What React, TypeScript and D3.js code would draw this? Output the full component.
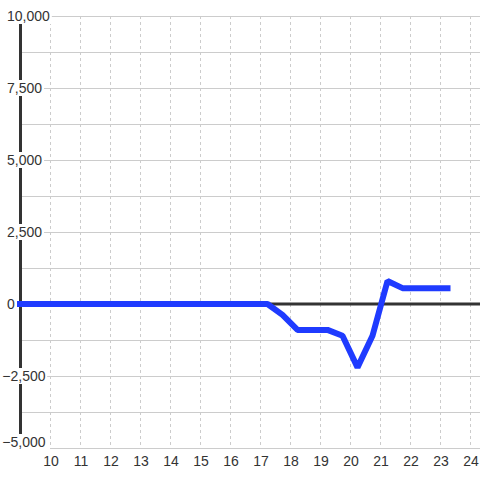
import React from "react";
import * as d3 from "d3";

const hours = [9, 17.25, 17.75, 18.25, 18.75, 19.25, 19.75, 20.25, 20.75, 21.25, 21.75, 22.25, 22.75, 23.25];
const values = [0, 0, -380, -900, -900, -900, -1100, -2200, -1100, 800, 550, 550, 550, 550];
const xTicks = [10, 11, 12, 13, 14, 15, 16, 17, 18, 19, 20, 21, 22, 23, 24];
const yMajor = [10000, 7500, 5000, 2500, 0, -2500, -5000];
const yMinor = [8750, 6250, 3750, 1250, -1250, -3750];

const W = 480;
const H = 480;
const FONT = "'Liberation Sans', Arial, sans-serif";
const TEXT = "#333";

function textWidth(s: string) {
  let w = 0;
  for (const c of s) {
    if (c === ",") w += 3.89;
    else if (c === "-") w += 4.66;
    else w += 7.79;
  }
  return w;
}

export default function App() {
  const x = d3.scaleLinear().domain([9, 24.3333]).range([20, 480]);
  const y = d3.scaleLinear().domain([-5000, 10000]).range([448, 16]);
  const fmt = d3.format(",");
  const line = d3
    .line<number>()
    .x((_, i) => x(hours[i]))
    .y((v) => y(v));
  const path = line(values) || "";

  return (
    <svg
      width={W}
      height={H}
      style={{ position: "absolute", left: 0, top: 0, background: "#fff" }}
    >
      <rect x={0} y={0} width={W} height={H} fill="#fff" />
      {/* vertical dashed gridlines */}
      {xTicks.map((t) => (
        <line
          key={"vx" + t}
          x1={Math.round(x(t)) + 0.5}
          x2={Math.round(x(t)) + 0.5}
          y1={y(10000)}
          y2={y(-5000)}
          stroke="#ccc"
          strokeWidth={1}
          strokeDasharray="3,3"
        />
      ))}
      {/* horizontal gridlines */}
      {[...yMajor, ...yMinor]
        .filter((v) => v !== 0)
        .map((v) => (
          <line
            key={"hy" + v}
            x1={v === -5000 ? x(10) : x(9)}
            x2={W}
            y1={Math.round(y(v)) + 0.5}
            y2={Math.round(y(v)) + 0.5}
            stroke="#ccc"
            strokeWidth={1}
          />
        ))}
      {/* zero line */}
      <line x1={x(9)} x2={W} y1={y(0)} y2={y(0)} stroke="#333" strokeWidth={3} />
      {/* vertical axis bar */}
      <line x1={20.5} x2={20.5} y1={y(10000)} y2={y(-5000)} stroke="#333" strokeWidth={3} />
      {/* y labels */}
      {yMajor.map((v) => {
        const s = fmt(v);
        const neg = v < 0;
        const tx = neg ? 7 - 4.66 : 7;
        const wdt = textWidth(s);
        const bottom = v === -5000;
        const cy = bottom ? y(v) - 6 : y(v);
        return (
          <g key={"yl" + v}>
            <rect x={tx - 1} y={cy - 8} width={wdt + 3} height={16} fill="#fff" />
            <text
              x={tx}
              y={cy + 5}
              fontFamily={FONT}
              fontSize={14}
              fill={TEXT}
            >
              {s}
            </text>
          </g>
        );
      })}
      {/* data line */}
      <path
        d={path}
        fill="none"
        stroke="#1f3bff"
        strokeWidth={6}
        strokeLinecap="square"
        strokeLinejoin="bevel"
      />
      {/* x labels */}
      {xTicks.map((t) => (
        <text
          key={"xl" + t}
          x={x(t) + 1}
          y={466}
          textAnchor="middle"
          fontFamily={FONT}
          fontSize={14}
          fill={TEXT}
        >
          {t}
        </text>
      ))}
    </svg>
  );
}
